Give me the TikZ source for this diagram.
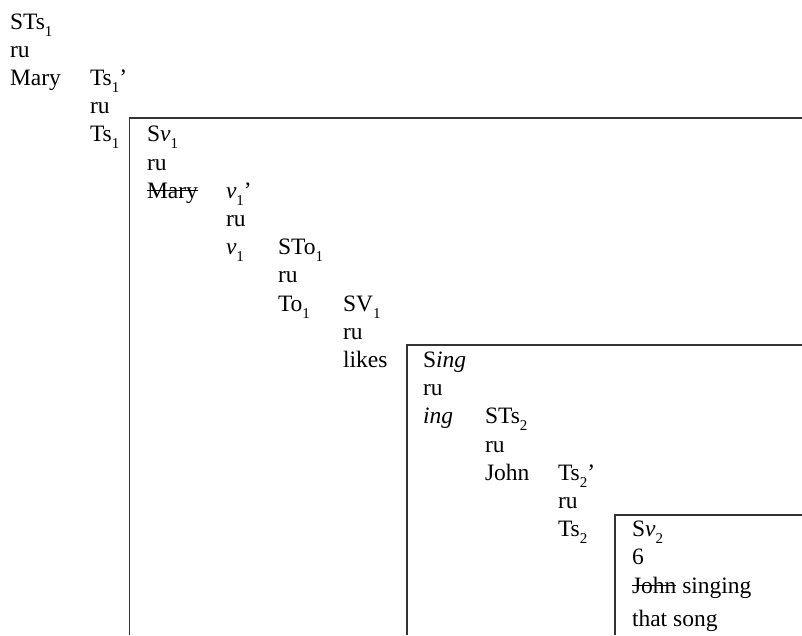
\documentclass[tikz,border=0pt]{standalone}
\usepackage{fontspec}
\setmainfont{Liberation Serif}
\newcommand\sbs[1]{\raisebox{-0.3em}{\fontsize{15}{15}\selectfont #1}}
\newcommand\strk[1]{\setbox0\hbox{#1}\rlap{\rule[0.3em]{\wd0}{0.06em}}\box0\relax}
\tikzset{
  lbl/.style={anchor=base west, inner sep=0pt, outer sep=0pt, font=\fontsize{23.5}{28}\selectfont},
  boxline/.style={draw=black!80, line width=1.3pt}
}
\begin{document}
\begin{tikzpicture}[x=1pt, y=-1pt]
\useasboundingbox (0,0) rectangle (802,635);
% columns
\def\ca{10}\def\cb{90}\def\cc{147}\def\cd{226}\def\ce{278}
\def\cf{343}\def\cg{423}\def\ch{485}\def\ci{558}\def\cj{632}
% boxes
\coordinate (b1a) at (129.5,635); \coordinate (b1b) at (129.5,118); \coordinate (b1c) at (802,118);
\coordinate (b2a) at (407,635); \coordinate (b2b) at (407,345); \coordinate (b2c) at (802,345);
\coordinate (b3a) at (615,635); \coordinate (b3b) at (615,515); \coordinate (b3c) at (802,515);
\draw[boxline] (b1a) -- (b1b) -- (b1c);
\draw[boxline] (b2a) -- (b2b) -- (b2c);
\draw[boxline] (b3a) -- (b3b) -- (b3c);
% rows: baseline = 29 + 28.2 r
\node[lbl] (n0) at (\ca,29.0) {STs\sbs{1}};
\node[lbl] (n1) at (\ca,57.2) {ru};
\node[lbl] (n2) at (\ca,85.4) {Mary};
\node[lbl] (n3) at (\cb,85.4) {Ts\sbs{1}’};
\node[lbl] (n4) at (\cb,113.6) {ru};
\node[lbl] (n5) at (\cb,141.8) {Ts\sbs{1}};
\node[lbl] (n6) at (\cc,141.8) {S\textit{v}\sbs{1}};
\node[lbl] (n7) at (\cc,170.0) {ru};
\node[lbl] (n8) at (\cc,198.2) {\strk{Mary}};
\node[lbl] (n9) at (\cd,198.2) {\textit{v}\sbs{1}’};
\node[lbl] (n10) at (\cd,226.4) {ru};
\node[lbl] (n11) at (\cd,254.6) {\textit{v}\sbs{1}};
\node[lbl] (n12) at (\ce,254.6) {STo\sbs{1}};
\node[lbl] (n13) at (\ce,282.8) {ru};
\node[lbl] (n14) at (\ce,311.0) {To\sbs{1}};
\node[lbl] (n15) at (\cf,311.0) {SV\sbs{1}};
\node[lbl] (n16) at (\cf,339.2) {ru};
\node[lbl] (n17) at (\cf,367.4) {likes};
\node[lbl] (n18) at (\cg,367.4) {S\textit{ing}};
\node[lbl] (n19) at (\cg,395.6) {ru};
\node[lbl] (n20) at (\cg,423.8) {\textit{ing}};
\node[lbl] (n21) at (\ch,423.8) {STs\sbs{2}};
\node[lbl] (n22) at (\ch,452.0) {ru};
\node[lbl] (n23) at (\ch,480.2) {John};
\node[lbl] (n24) at (\ci,480.2) {Ts\sbs{2}’};
\node[lbl] (n25) at (\ci,508.4) {ru};
\node[lbl] (n26) at (\ci,536.6) {Ts\sbs{2}};
\node[lbl] (n27) at (\cj,536.6) {S\textit{v}\sbs{2}};
\node[lbl] (n28) at (\cj,564.8) {6};
\node[lbl] (n29) at (\cj,593.0) {\strk{John} singing};
\node[lbl] (n30) at (\cj,626.0) {that song};
\end{tikzpicture}
\end{document}
